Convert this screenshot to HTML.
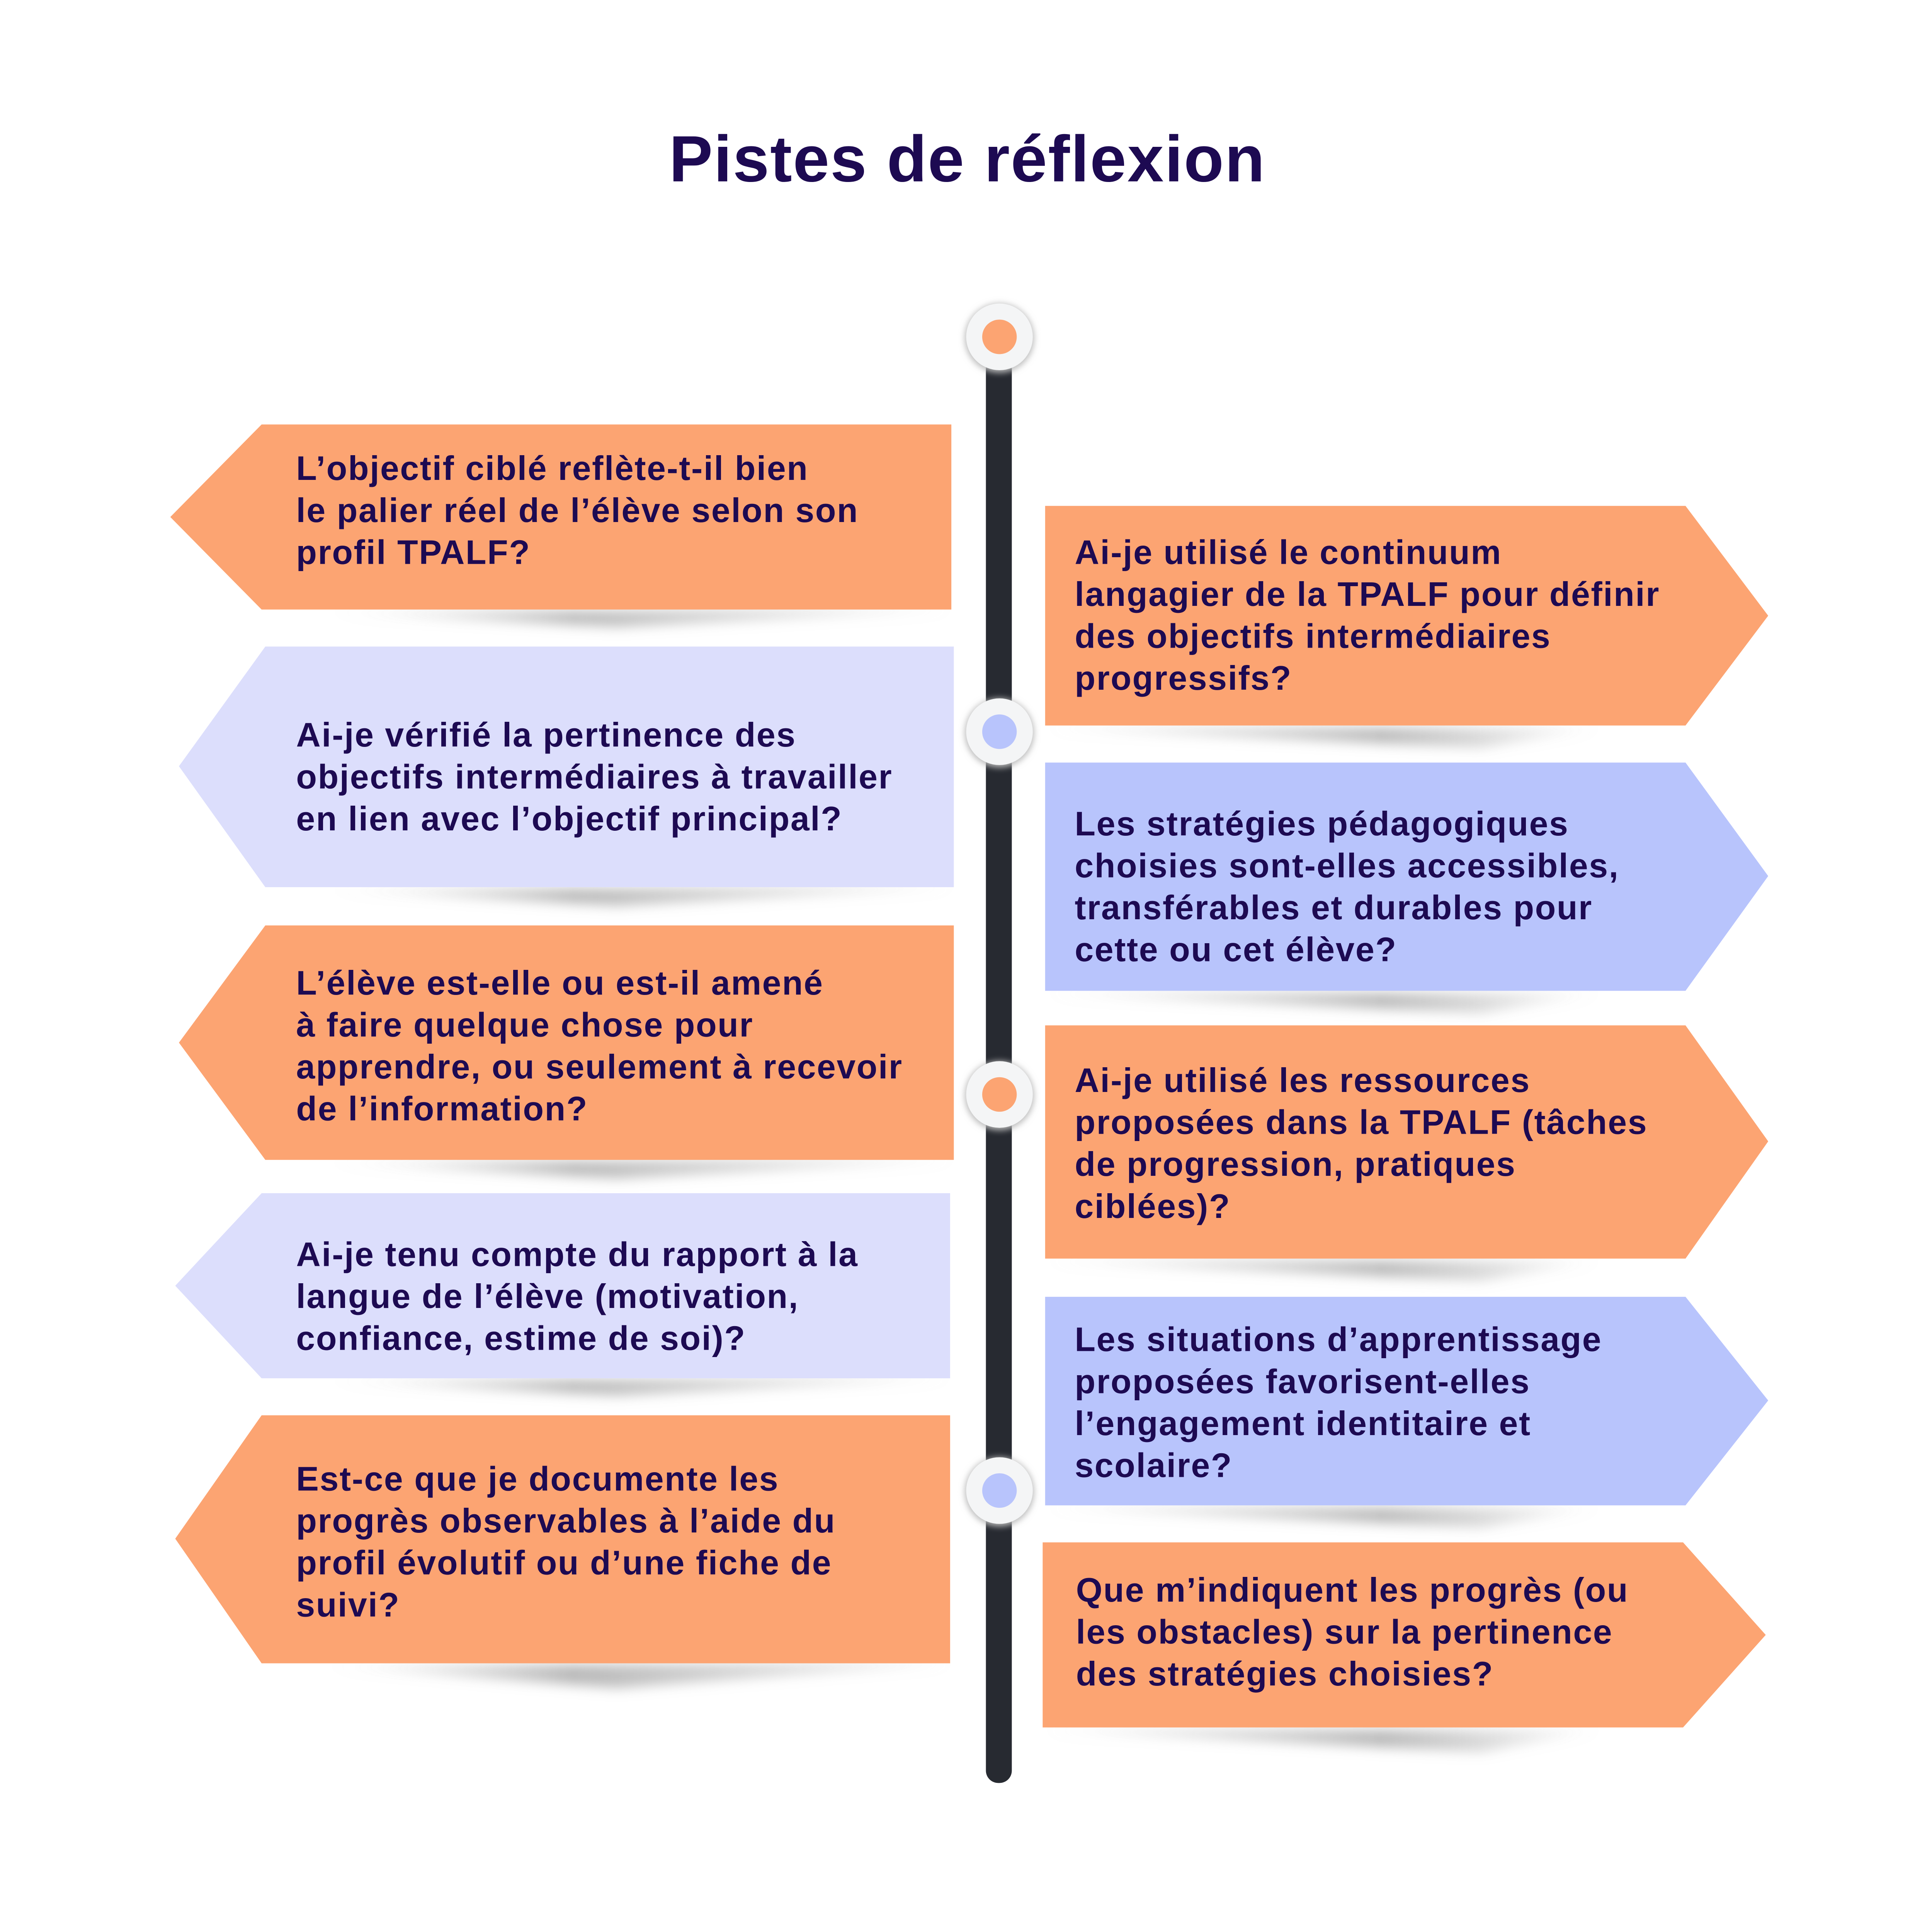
<!DOCTYPE html>
<html><head><meta charset="utf-8"><style>
html,body{margin:0;padding:0;background:#fff;overflow:hidden;}
svg{display:block;}
text{font-family:"Liberation Sans",sans-serif;font-weight:bold;fill:#1d0a52;}
</style></head><body>
<svg width="5400" height="5223" viewBox="0 0 1691 1635.6" xmlns="http://www.w3.org/2000/svg">
<defs>
<filter id="bl" x="-20%" y="-200%" width="140%" height="500%"><feGaussianBlur stdDeviation="5"/></filter>
<filter id="cs" x="-50%" y="-50%" width="200%" height="200%"><feGaussianBlur stdDeviation="2.5"/></filter>
<linearGradient id="gl" x1="0" x2="1"><stop offset="0" stop-color="#999" stop-opacity="0"/><stop offset="0.4" stop-color="#888" stop-opacity="0.6"/><stop offset="1" stop-color="#aaa" stop-opacity="0.2"/></linearGradient>
<linearGradient id="gr" x1="0" x2="1"><stop offset="0" stop-color="#aaa" stop-opacity="0.2"/><stop offset="0.6" stop-color="#888" stop-opacity="0.6"/><stop offset="1" stop-color="#999" stop-opacity="0"/></linearGradient>
</defs>
<rect width="1691" height="1635.6" fill="#fff"/>
<text x="784" y="147" font-size="53" letter-spacing="0.8" text-anchor="middle" fill="#1d0a52">Pistes de réflexion</text>

<g filter="url(#bl)">
<polygon points="260,496 771,494 500,508" fill="url(#gl)"/>
<polygon points="260,721 773,719 500,734" fill="url(#gl)"/>
<polygon points="260,942 773,940 500,955" fill="url(#gl)"/>
<polygon points="260,1119 770,1117 500,1131" fill="url(#gl)"/>
<polygon points="260,1350 770,1348 500,1368" fill="url(#gl)"/>
<polygon points="850,590 1300,590 1200,606" fill="url(#gr)"/>
<polygon points="850,805 1300,805 1200,821" fill="url(#gr)"/>
<polygon points="850,1022 1300,1022 1200,1038" fill="url(#gr)"/>
<polygon points="850,1222 1300,1222 1200,1238" fill="url(#gr)"/>
<polygon points="848,1402 1300,1402 1200,1420" fill="url(#gr)"/>
</g>

<rect x="799" y="275" width="21" height="1170" rx="10" fill="#272a31"/>
<g>
<circle cx="810" cy="274" r="28" fill="#bbb" filter="url(#cs)"/>
<circle cx="810" cy="273" r="27" fill="#f4f5f6"/>
<circle cx="810" cy="273" r="14" fill="#fca472"/>
<circle cx="810" cy="594" r="28" fill="#bbb" filter="url(#cs)"/>
<circle cx="810" cy="593" r="27" fill="#f4f5f6"/>
<circle cx="810" cy="593" r="14" fill="#b8c4fc"/>
<circle cx="810" cy="888" r="28" fill="#bbb" filter="url(#cs)"/>
<circle cx="810" cy="887" r="27" fill="#f4f5f6"/>
<circle cx="810" cy="887" r="14" fill="#fca472"/>
<circle cx="810" cy="1209" r="28" fill="#bbb" filter="url(#cs)"/>
<circle cx="810" cy="1208" r="27" fill="#f4f5f6"/>
<circle cx="810" cy="1208" r="14" fill="#b8c4fc"/>
</g>

<polygon points="212,344 771,344 771,494 212,494 138,419" fill="#fca472"/>
<polygon points="215,524 773,524 773,719 215,719 145,621" fill="#dcdefc"/>
<polygon points="215,750 773,750 773,940 215,940 145,845" fill="#fca472"/>
<polygon points="212,967 770,967 770,1117 212,1117 142,1042" fill="#dcdefc"/>
<polygon points="212,1147 770,1147 770,1348 212,1348 142,1247" fill="#fca472"/>

<polygon points="847,410 1366,410 1433,499 1366,588 847,588" fill="#fca472"/>
<polygon points="847,618 1366,618 1433,710 1366,803 847,803" fill="#b8c4fc"/>
<polygon points="847,831 1366,831 1433,925 1366,1020 847,1020" fill="#fca472"/>
<polygon points="847,1051 1366,1051 1433,1135 1366,1220 847,1220" fill="#b8c4fc"/>
<polygon points="845,1250 1364,1250 1431,1325 1364,1400 845,1400" fill="#fca472"/>

<g font-size="27.5" letter-spacing="0.8">
<text x="240" y="389">L’objectif ciblé reflète-t-il bien</text>
<text x="240" y="423">le palier réel de l’élève selon son</text>
<text x="240" y="457">profil TPALF?</text>

<text x="240" y="605">Ai-je vérifié la pertinence des</text>
<text x="240" y="639">objectifs intermédiaires à travailler</text>
<text x="240" y="673">en lien avec l’objectif principal?</text>

<text x="240" y="806">L’élève est-elle ou est-il amené</text>
<text x="240" y="840">à faire quelque chose pour</text>
<text x="240" y="874">apprendre, ou seulement à recevoir</text>
<text x="240" y="908">de l’information?</text>

<text x="240" y="1026">Ai-je tenu compte du rapport à la</text>
<text x="240" y="1060">langue de l’élève (motivation,</text>
<text x="240" y="1094">confiance, estime de soi)?</text>

<text x="240" y="1208">Est-ce que je documente les</text>
<text x="240" y="1242">progrès observables à l’aide du</text>
<text x="240" y="1276">profil évolutif ou d’une fiche de</text>
<text x="240" y="1310">suivi?</text>

<text x="871" y="457">Ai-je utilisé le continuum</text>
<text x="871" y="491">langagier de la TPALF pour définir</text>
<text x="871" y="525">des objectifs intermédiaires</text>
<text x="871" y="559">progressifs?</text>

<text x="871" y="677">Les stratégies pédagogiques</text>
<text x="871" y="711">choisies sont-elles accessibles,</text>
<text x="871" y="745">transférables et durables pour</text>
<text x="871" y="779">cette ou cet élève?</text>

<text x="871" y="885">Ai-je utilisé les ressources</text>
<text x="871" y="919">proposées dans la TPALF (tâches</text>
<text x="871" y="953">de progression, pratiques</text>
<text x="871" y="987">ciblées)?</text>

<text x="871" y="1095">Les situations d’apprentissage</text>
<text x="871" y="1129">proposées favorisent-elles</text>
<text x="871" y="1163">l’engagement identitaire et</text>
<text x="871" y="1197">scolaire?</text>

<text x="872" y="1298">Que m’indiquent les progrès (ou</text>
<text x="872" y="1332">les obstacles) sur la pertinence</text>
<text x="872" y="1366">des stratégies choisies?</text>
</g>
</svg>
</body></html>
